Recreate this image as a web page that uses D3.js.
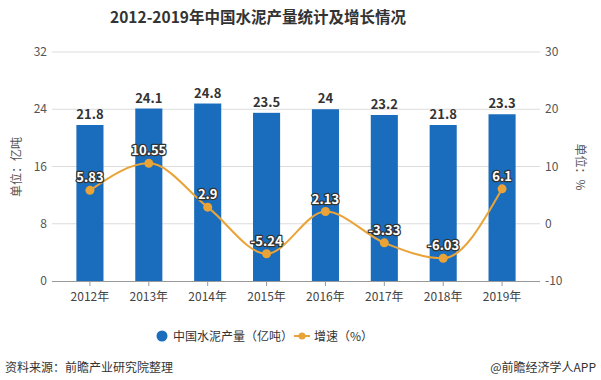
<!DOCTYPE html>
<html><head><meta charset="utf-8">
<script src="https://cdn.jsdelivr.net/npm/d3@7/dist/d3.min.js"></script>
<style>
body{margin:0;background:#fff;}
text{font-family:"Noto Sans CJK SC","Noto Sans",sans-serif;}
</style></head>
<body><svg id="c" width="601" height="380"></svg>
<script>
const years = ["2012年","2013年","2014年","2015年","2016年","2017年","2018年","2019年"];
const output = [21.8, 24.1, 24.8, 23.5, 24, 23.2, 21.8, 23.3];
const growth = [5.83, 10.55, 2.9, -5.24, 2.13, -3.33, -6.03, 6.1];
const leftTicks = [0, 8, 16, 24, 32];
const rightTicks = [-10, 0, 10, 20, 30];
const growthLabels = ["5.83","10.55","2.9","-5.24","2.13","-3.33","-6.03","6.1"];

const svg = d3.select("#c");
const plotTop = 52, plotBottom = 281, gridL = 52, gridR = 540;
const x = d3.scaleBand().domain(years).range([60.5, 531.5]).paddingInner(0.54).paddingOuter(0.27);
const yL = d3.scaleLinear().domain([0, 32]).range([plotBottom, plotTop]);
const yR = d3.scaleLinear().domain([-10, 30]).range([plotBottom, plotTop]);
const blue = "#1a6dbd", orange = "#eaa336";

svg.append("text").attr("x", 258).attr("y", 23).attr("text-anchor", "middle")
  .attr("font-size", 15.5).attr("font-weight", "bold").attr("fill", "#333")
  .text("2012-2019年中国水泥产量统计及增长情况");

// grid
svg.append("g").selectAll("line").data(leftTicks.filter(d => d > 0)).join("line")
  .attr("x1", gridL).attr("x2", gridR).attr("y1", d => yL(d)).attr("y2", d => yL(d))
  .attr("stroke", "#dcdcdc").attr("stroke-width", 1);

// axis labels
svg.append("g").selectAll("text").data(leftTicks).join("text")
  .attr("x", 47).attr("y", d => yL(d) + 4).attr("text-anchor", "end")
  .attr("font-size", 12).attr("fill", "#555").text(d => d);
svg.append("g").selectAll("text").data(rightTicks).join("text")
  .attr("x", 545).attr("y", d => yR(d) + 4).attr("text-anchor", "start")
  .attr("font-size", 12).attr("fill", "#555").text(d => d);

svg.append("text").attr("transform", `translate(21,167) rotate(-90)`).attr("text-anchor", "middle")
  .attr("font-size", 12).attr("fill", "#555").text("单位：亿吨");
svg.append("text").attr("transform", `translate(576,167) rotate(90)`).attr("text-anchor", "middle")
  .attr("font-size", 12).attr("fill", "#555").text("单位：%");

// bars
svg.append("g").selectAll("rect").data(output).join("rect")
  .attr("x", (d, i) => x(years[i])).attr("width", x.bandwidth())
  .attr("y", d => yL(d)).attr("height", d => plotBottom - yL(d)).attr("fill", blue);

// x axis
svg.append("line").attr("x1", gridL).attr("x2", gridR).attr("y1", plotBottom + 0.5).attr("y2", plotBottom + 0.5)
  .attr("stroke", "#999");
svg.append("g").selectAll("line").data(years).join("line")
  .attr("x1", d => x(d) + x.bandwidth() / 2).attr("x2", d => x(d) + x.bandwidth() / 2)
  .attr("y1", plotBottom).attr("y2", plotBottom + 5).attr("stroke", "#999");
svg.append("g").selectAll("text").data(years).join("text")
  .attr("x", d => x(d) + x.bandwidth() / 2).attr("y", 301).attr("text-anchor", "middle")
  .attr("font-size", 12).attr("fill", "#444").text(d => d);

// bar labels
svg.append("g").selectAll("text").data(output).join("text")
  .attr("x", (d, i) => x(years[i]) + x.bandwidth() / 2).attr("y", d => yL(d) - 6)
  .attr("text-anchor", "middle").attr("font-size", 13).attr("font-weight", "bold")
  .attr("fill", "#333").text(d => d);

// line
const cx = i => x(years[i]) + x.bandwidth() / 2;
const line = d3.line().x((d, i) => cx(i)).y(d => yR(d)).curve(d3.curveMonotoneX);
svg.append("path").datum(growth).attr("d", line).attr("fill", "none")
  .attr("stroke", orange).attr("stroke-width", 2);
svg.append("g").selectAll("circle").data(growth).join("circle")
  .attr("cx", (d, i) => cx(i)).attr("cy", d => yR(d)).attr("r", 4.5).attr("fill", orange);
svg.append("g").selectAll("text").data(growth).join("text")
  .attr("x", (d, i) => cx(i)).attr("y", d => yR(d) - 8)
  .attr("text-anchor", "middle").attr("font-size", 13).attr("font-weight", "bold")
  .attr("fill", "#fff").attr("stroke", "#333").attr("stroke-width", 2.5)
  .attr("paint-order", "stroke").attr("stroke-linejoin", "round")
  .text((d, i) => growthLabels[i]);

// legend
const lg = svg.append("g");
lg.append("circle").attr("cx", 162).attr("cy", 336).attr("r", 5.5).attr("fill", blue);
lg.append("text").attr("x", 173).attr("y", 340.5).attr("font-size", 12).attr("fill", "#333")
  .text("中国水泥产量（亿吨）");
lg.append("line").attr("x1", 294).attr("x2", 310).attr("y1", 336).attr("y2", 336)
  .attr("stroke", orange).attr("stroke-width", 2);
lg.append("circle").attr("cx", 302).attr("cy", 336).attr("r", 3.5).attr("fill", orange);
lg.append("text").attr("x", 314).attr("y", 340.5).attr("font-size", 12).attr("fill", "#333")
  .text("增速（%）");

// footer
svg.append("text").attr("x", 5).attr("y", 372).attr("font-size", 12).attr("fill", "#333")
  .text("资料来源：前瞻产业研究院整理");
svg.append("text").attr("x", 596).attr("y", 372).attr("text-anchor", "end").attr("font-size", 12)
  .attr("fill", "#333").text("@前瞻经济学人APP");
</script></body></html>
